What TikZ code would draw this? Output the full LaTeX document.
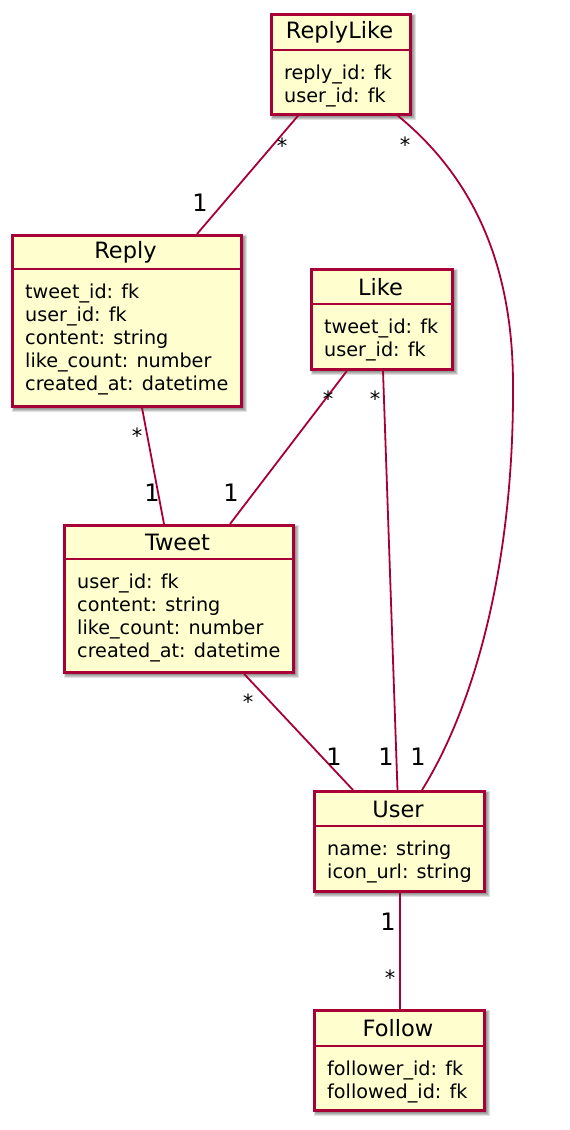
\documentclass[tikz,border=0pt]{standalone}
\usepackage{fontspec}
\setmainfont{DejaVu Sans}
\definecolor{boxfill}{HTML}{FEFECE}
\definecolor{boxborder}{HTML}{A80036}
\tikzset{
  entbox/.style={draw=boxborder, fill=boxfill, line width=2.8pt, rectangle, inner sep=0pt},
  sepline/.style={draw=boxborder, line width=2.4pt},
  enttitle/.style={inner sep=0pt, font=\fontsize{22.5}{26}\selectfont},
  entattr/.style={inner sep=0pt, anchor=base west, font=\fontsize{19.2}{23}\selectfont},
  conn/.style={draw=boxborder, line width=1.8pt},
  mult/.style={inner sep=0pt, font=\fontsize{24}{28}\selectfont},
  multstar/.style={inner sep=0pt, font=\fontsize{21}{26}\selectfont},
}
% #1 name, #2 x1, #3 y1, #4 x2, #5 y2, #6 separator y, #7 title, #8 attribute lines
\newcommand\entitybox[8]{%
  \foreach \k in {0,1,2,3,4}{%
    \fill[black, opacity=0.12] ({#2+4-\k*0.8},{#3+4-\k*0.8}) rectangle ({#4+3+\k},{#5+3+\k});
  }
  \node[entbox, minimum width={(#4-#2)*1pt}, minimum height={(#5-#3)*1pt}, anchor=north west] (#1) at (#2,#3) {};
  \draw[sepline] (#1.west |- 0,#6) -- (#1.east |- 0,#6);
  \node[enttitle] (#1-title) at ({(#2+#4)/2},{(#3+#6)/2+1}) {#7};
  \foreach \l [count=\i] in {#8}{%
    \node[entattr] (#1-attr\i) at ({#2+14},{#6+29+23*(\i-1)}) {\l};
  }
}
\begin{document}
\begin{tikzpicture}[x=1pt, y=-1pt]
\useasboundingbox (0,0) rectangle (570,1130);
\fill[white] (0,0) rectangle (570,1130);

\entitybox{RL}{270}{13}{409}{113}{50}{ReplyLike}{reply\_id: fk, user\_id: fk}
\entitybox{RE}{11}{234}{240}{405}{269}{Reply}{tweet\_id: fk, user\_id: fk, content: string, like\_count: number, created\_at: datetime}
\entitybox{LI}{310}{268}{451}{368}{304}{Like}{tweet\_id: fk, user\_id: fk}
\entitybox{TW}{63}{524}{292}{671}{559}{Tweet}{user\_id: fk, content: string, like\_count: number, created\_at: datetime}
\entitybox{US}{313}{790}{483}{890}{826}{User}{name: string, icon\_url: string}
\entitybox{FO}{313}{1009}{483}{1109}{1046}{Follow}{follower\_id: fk, followed\_id: fk}

% connectors
\draw[conn] ([xshift=28pt]RL.south west) -- ([xshift=186pt]RE.north west);
\draw[conn] ([xshift=128pt]RL.south west) .. controls (470,175) and (513,260) .. (513,385)
   .. controls (514,570) and (472,710) .. ([xshift=109pt]US.north west);
\draw[conn] ([xshift=37pt]LI.south west) -- ([xshift=167pt]TW.north west);
\draw[conn] ([xshift=73pt]LI.south west) -- ([xshift=84.5pt]US.north west);
\draw[conn] ([xshift=131pt]RE.south west) -- ([xshift=101pt]TW.north west);
\draw[conn] ([xshift=181pt]TW.south west) -- ([xshift=40pt]US.north west);
\draw[conn] ([xshift=0.5pt]US.south) -- ([xshift=0.5pt]FO.north);

% multiplicities
\node[multstar] (m1a) at (282,146) {*};
\node[mult] (m1b) at (200,203) {1};
\node[multstar] (m2a) at (405,145) {*};
\node[mult] (m2b) at (418,757) {1};
\node[multstar] (m3a) at (328,399) {*};
\node[mult] (m3b) at (231,493) {1};
\node[multstar] (m4a) at (375,399) {*};
\node[mult] (m4b) at (386,757) {1};
\node[multstar] (m5a) at (137,436) {*};
\node[mult] (m5b) at (152,493) {1};
\node[multstar] (m6a) at (248,702) {*};
\node[mult] (m6b) at (334,757) {1};
\node[mult] (m7a) at (388,922) {1};
\node[multstar] (m7b) at (390,978) {*};
\end{tikzpicture}
\end{document}
